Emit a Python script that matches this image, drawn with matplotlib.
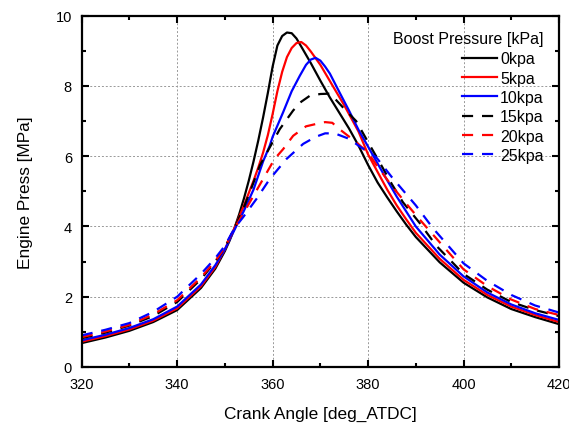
import numpy as np
import matplotlib.pyplot as plt
from matplotlib.ticker import MultipleLocator

plt.rcParams['font.family'] = ['Liberation Sans', 'DejaVu Sans']

# crank angle [deg] and pressure [MPa]
ca_0 = [320, 325, 330, 335, 340, 345, 348, 350, 351, 352, 353, 354, 355, 356, 357, 358, 359, 360, 361, 362, 363,
        364, 365, 366, 368, 370, 372, 374, 376, 378, 380, 382, 384, 386, 388, 390, 395, 400, 405, 410, 415, 420]
p_0 = [0.68, 0.84, 1.03, 1.28, 1.62, 2.25, 2.8, 3.3, 3.6, 3.95, 4.35, 4.8, 5.3, 5.85, 6.45, 7.1, 7.8, 8.55, 9.15, 9.42,
       9.52, 9.5, 9.35, 9.12, 8.65, 8.15, 7.67, 7.23, 6.79, 6.3, 5.75, 5.25, 4.83, 4.43, 4.05, 3.7, 2.98, 2.4, 1.98,
       1.65, 1.42, 1.22]

ca_5 = [320, 325, 330, 335, 340, 345, 348, 350, 352, 354, 356, 357, 358, 359, 360, 361, 362, 363, 364, 365, 366,
        367, 368, 370, 372.6, 375, 378, 380, 382, 384, 386, 388, 390, 395, 400, 405, 410, 415, 420]
p_5 = [0.72, 0.88, 1.07, 1.32, 1.67, 2.3, 2.85, 3.35, 3.95, 4.6, 5.3, 5.68, 6.1, 6.6, 7.2, 7.85, 8.4, 8.82, 9.08, 9.22,
       9.25, 9.15, 8.98, 8.6, 8.0, 7.45, 6.7, 6.05, 5.55, 5.05, 4.6, 4.2, 3.82, 3.08, 2.48, 2.05, 1.72, 1.48, 1.28]

ca_10 = [320, 325, 330, 335, 340, 345, 348, 350, 352, 354, 356, 358, 359.4, 360, 362.2, 364, 365.7, 367, 368, 369,
         370, 371, 372, 374, 376, 378, 380.3, 383, 386, 390, 395, 400, 405, 410, 415, 420]
p_10 = [0.76, 0.92, 1.11, 1.36, 1.72, 2.35, 2.9, 3.35, 3.9, 4.45, 5.05, 5.85, 6.3, 6.55, 7.25, 7.85, 8.29, 8.6, 8.75, 8.8,
        8.72, 8.55, 8.35, 7.82, 7.3, 6.75, 6.2, 5.55, 4.85, 4.0, 3.2, 2.58, 2.12, 1.78, 1.53, 1.34]

ca_15 = [320, 325, 330, 335, 340, 345, 348, 350, 352, 354, 356, 357.3, 359.4, 361.5, 364.3, 366, 367.8, 370, 372,
         373.3, 375, 377.5, 380, 382.4, 385, 387.3, 390.8, 394.3, 400, 405, 410, 415, 420]
p_15 = [0.82, 0.98, 1.18, 1.45, 1.85, 2.5, 3.0, 3.4, 3.95, 4.55, 5.25, 5.73, 6.25, 6.77, 7.3, 7.55, 7.72, 7.77, 7.78,
        7.6, 7.35, 7.0, 6.4, 5.83, 5.2, 4.69, 4.1, 3.45, 2.65, 2.2, 1.85, 1.62, 1.45]

ca_20 = [320, 325, 330, 335, 340, 345, 348, 350, 352, 354, 355.6, 358, 360.4, 362.2, 364.3, 367, 369.2, 371, 372.5,
         374, 377.5, 380, 382, 385, 388, 390.8, 395, 400, 405, 410, 415, 420]
p_20 = [0.85, 1.01, 1.2, 1.5, 1.9, 2.55, 3.02, 3.4, 3.95, 4.4, 4.78, 5.35, 5.92, 6.2, 6.58, 6.85, 6.92, 6.97, 6.95,
        6.77, 6.4, 6.1, 5.7, 5.15, 4.65, 4.2, 3.55, 2.78, 2.3, 1.92, 1.65, 1.48]

ca_25 = [320, 325, 330, 335, 340, 345, 348, 350, 352, 353.8, 356.6, 359.4, 362.9, 366.4, 369, 371, 373, 376.1, 378,
         381.7, 385, 390, 393.6, 400, 405, 410, 415, 420]
p_25 = [0.9, 1.06, 1.25, 1.57, 2.0, 2.65, 3.1, 3.45, 3.95, 4.26, 4.78, 5.35, 5.92, 6.35, 6.55, 6.65, 6.65, 6.49, 6.3,
        5.97, 5.4, 4.6, 3.95, 2.95, 2.45, 2.05, 1.75, 1.55]

labels = ['0kpa', '5kpa', '10kpa', '15kpa', '20kpa', '25kpa']
colors = ['black', '#ff0000', '#0000ff', 'black', '#ff0000', '#0000ff']
series = [(ca_0, p_0), (ca_5, p_5), (ca_10, p_10), (ca_15, p_15), (ca_20, p_20), (ca_25, p_25)]

fig = plt.figure(figsize=(5.69, 4.27), dpi=100)
ax = fig.add_axes([0.1436, 0.1382, 0.8388, 0.8228])

for i, (x, y) in enumerate(series):
    if i < 3:
        ax.plot(x, y, color=colors[i], lw=1.6, label=labels[i])
    else:
        ax.plot(x, y, color=colors[i], lw=1.6, dashes=(5, 4), label=labels[i])

ax.set_xlim(320, 420)
ax.set_ylim(0, 10)
ax.xaxis.set_major_locator(MultipleLocator(20))
ax.xaxis.set_minor_locator(MultipleLocator(10))
ax.yaxis.set_major_locator(MultipleLocator(2))
ax.yaxis.set_minor_locator(MultipleLocator(1))
ax.tick_params(which='both', direction='in', top=True, right=True, width=1.5, labelsize=10.5, pad=7)
ax.tick_params(which='major', length=5)
ax.tick_params(which='minor', length=3)
for s in ax.spines.values():
    s.set_linewidth(1.6)
ax.grid(True, which='major', color='#999999', ls=(0, (2, 2)), lw=0.7)

ax.set_xlabel('Crank Angle [deg_ATDC]', fontsize=12.4, labelpad=11)
ax.set_ylabel('Engine Press [MPa]', fontsize=12.4, labelpad=16)

leg = ax.legend(title='Boost Pressure [kPa]', loc='upper right', frameon=False, fontsize=11.5,
                title_fontsize=11.5, handlelength=2.2, handletextpad=0.2, labelspacing=0.27,
                borderaxespad=0.55, alignment='right')
leg._legend_box.sep = 4

plt.savefig('out.png', dpi=100)
